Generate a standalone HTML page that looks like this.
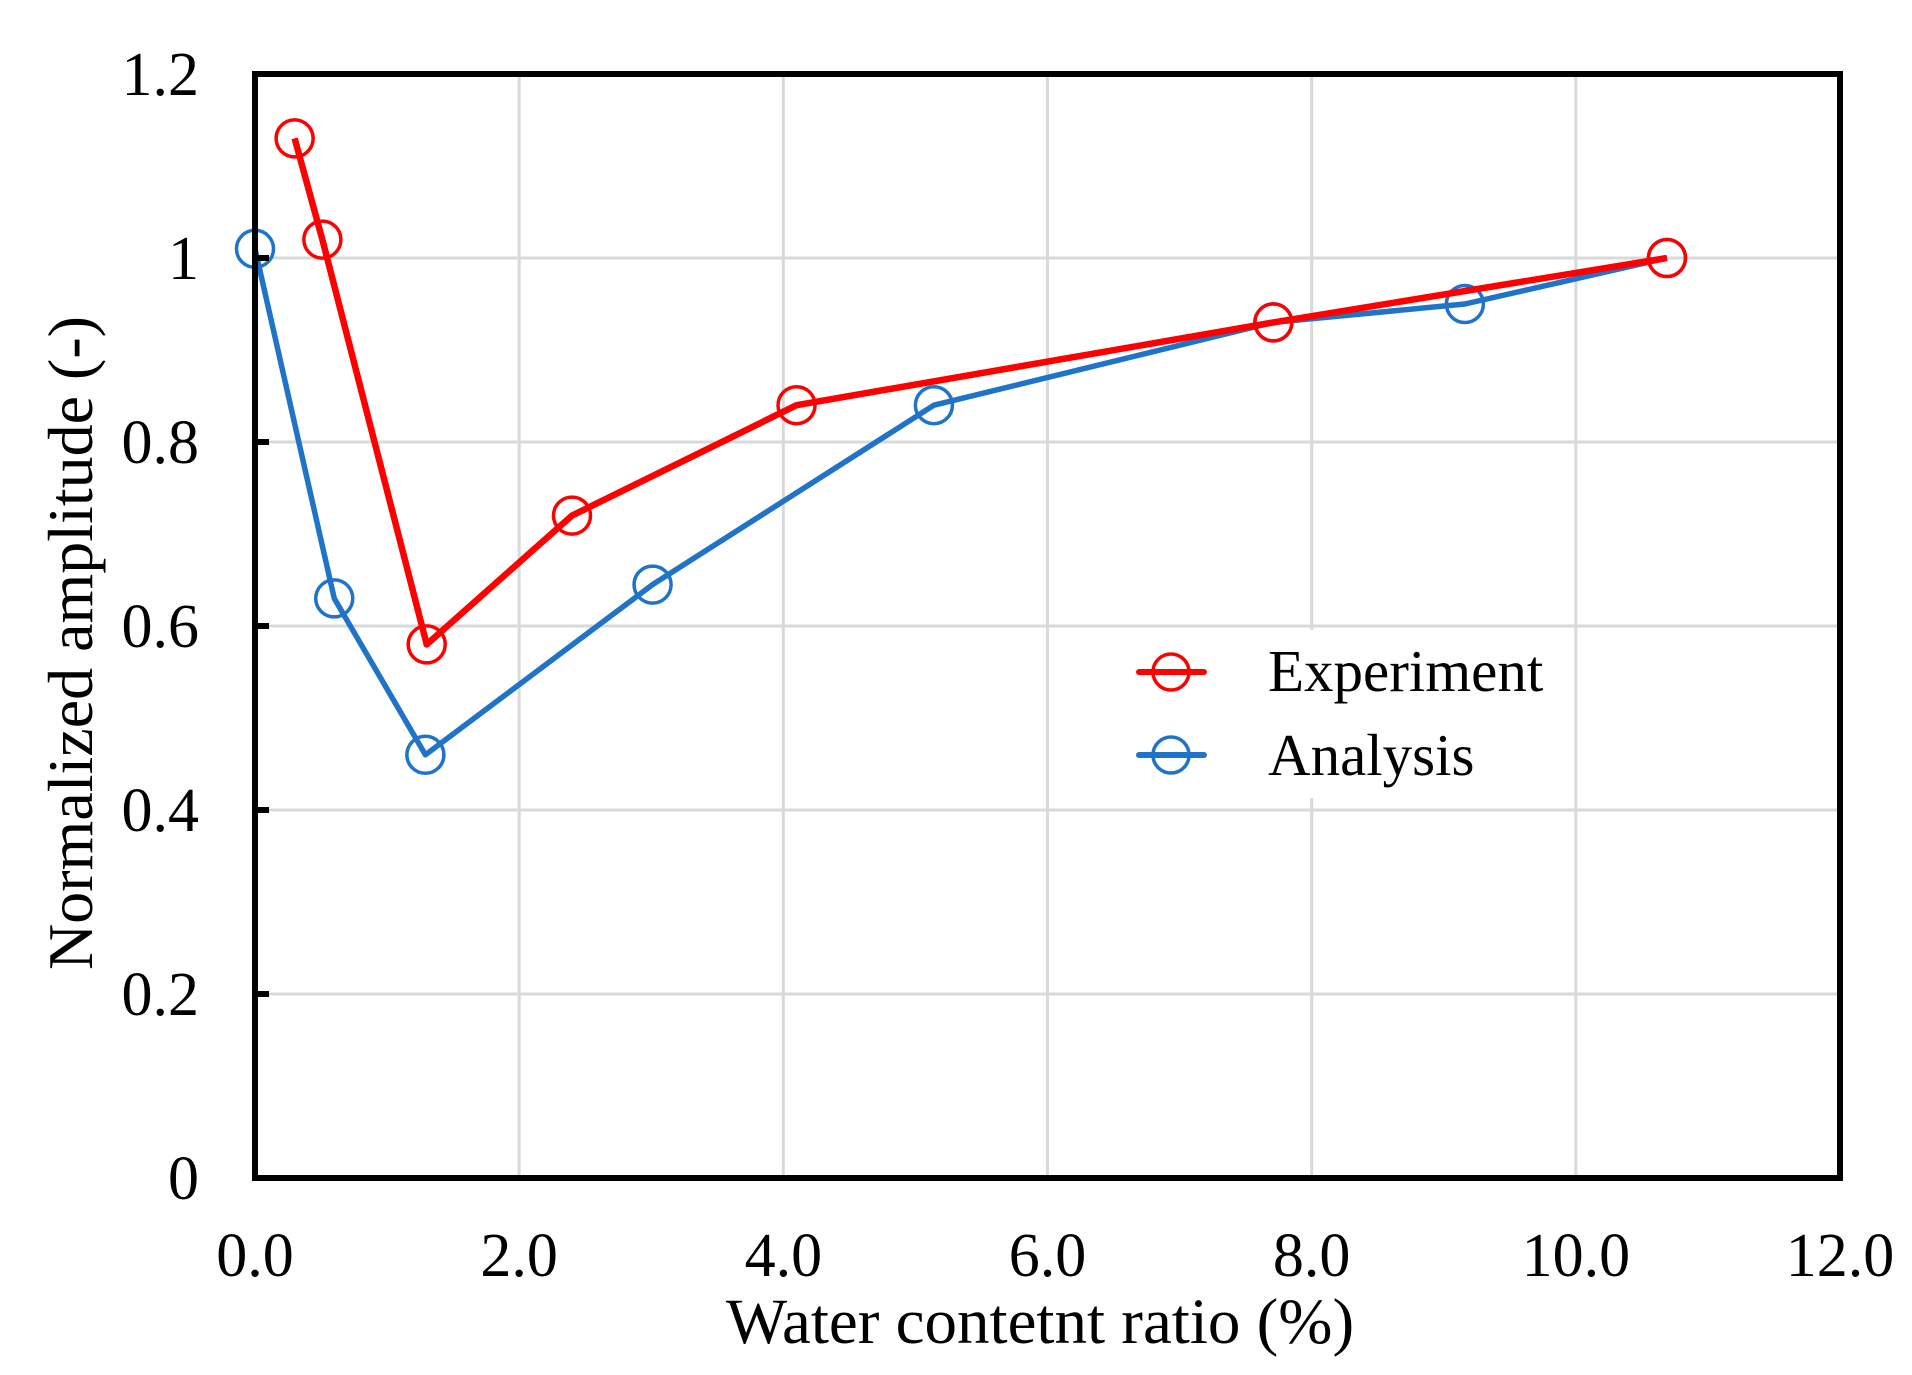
<!DOCTYPE html>
<html><head><meta charset="utf-8"><style>
html,body{margin:0;padding:0;background:#fff;}
svg{display:block;font-family:"Liberation Serif",serif;}
</style></head><body>
<svg id="chart" width="1912" height="1375" viewBox="0 0 1912 1375">
<g id="grid"></g>
<rect x="1121" y="630" width="450" height="168" fill="#fff"/>
<g id="series"></g>
<rect x="255" y="74" width="1585" height="1104" fill="none" stroke="#000" stroke-width="6"/>
<g id="ticks"></g>
<text x="1040" y="1343" font-size="65" text-anchor="middle">Water contetnt ratio (%)</text>
<text transform="translate(92,643) rotate(-90)" font-size="64" text-anchor="middle">Normalized amplitude (-)</text>
<g>
<g>
<line x1="1139" y1="672" x2="1204" y2="672" stroke="#ff0000" stroke-width="6" stroke-linecap="round"/>
<circle cx="1171" cy="672" r="18" fill="none" stroke="#ff0000" stroke-width="3.5"/>
<text x="1268" y="691" font-size="59">Experiment</text></g>
<g>
<line x1="1139" y1="755" x2="1204" y2="755" stroke="#1f73c8" stroke-width="6" stroke-linecap="round"/>
<circle cx="1171" cy="755" r="18" fill="none" stroke="#1f73c8" stroke-width="3.5"/>
<text x="1268" y="775" font-size="59">Analysis</text></g>
</g>
</svg>
<script>
const xTicks=[0,2,4,6,8,10,12];
const xTickLabels=["0.0","2.0","4.0","6.0","8.0","10.0","12.0"];
const yTicks=[0,0.2,0.4,0.6,0.8,1,1.2];
const yTickLabels=["0","0.2","0.4","0.6","0.8","1","1.2"];
const expX=[0.30,0.51,1.30,2.40,4.10,7.71,10.69];
const expY=[1.13,1.02,0.58,0.72,0.84,0.93,1.00];
const anaX=[0.0,0.60,1.29,3.01,5.14,7.71,9.16,10.69];
const anaY=[1.01,0.63,0.46,0.645,0.84,0.93,0.95,1.00];
const L=255,R=1840,T=74,B=1178;
const sx=v=>L+(v/12)*(R-L);
const sy=v=>B-(v/1.2)*(B-T);
const NS="http://www.w3.org/2000/svg";
function mk(tag,attrs,parent){const e=document.createElementNS(NS,tag);for(const k in attrs)e.setAttribute(k,attrs[k]);parent.appendChild(e);return e;}
const grid=document.getElementById('grid'),ticks=document.getElementById('ticks'),series=document.getElementById('series');
xTicks.forEach((v,i)=>{
 if(v>0&&v<12){const g=mk('line',{x1:sx(v),x2:sx(v),y1:T,y2:B,stroke:'#d9d9d9','stroke-width':3},grid);
 
 }
 const t=mk('text',{x:sx(v),y:1276,'font-size':62,'text-anchor':'middle'},ticks);t.textContent=xTickLabels[i];
 
 
});
yTicks.forEach((v,i)=>{
 if(v>0&&v<1.2){const g=mk('line',{x1:L,x2:R,y1:sy(v),y2:sy(v),stroke:'#d9d9d9','stroke-width':3},grid);
 
 
 const tk=mk('line',{x1:L,x2:L+14,y1:sy(v),y2:sy(v),stroke:'#000','stroke-width':6},ticks);
 
 }
 const t=mk('text',{x:199,y:sy(v)+21,'font-size':62,'text-anchor':'end'},ticks);t.textContent=yTickLabels[i];
 
 
});
function draw(xs,ys,color,w,name){
 const g=mk('g',{},series);
 
 
 const pl=mk('polyline',{points:xs.map((x,i)=>sx(x)+','+sy(ys[i])).join(' '),fill:'none',stroke:color,'stroke-width':w,'stroke-linejoin':'round'},g);
 
 
 xs.forEach((x,i)=>{const c=mk('circle',{cx:sx(x),cy:sy(ys[i]),r:18.5,fill:'none',stroke:color,'stroke-width':3.5},g);
 
 });
}
draw(anaX,anaY,'#1f73c8',5.5,'analysis');
draw(expX,expY,'#ff0000',6.5,'experiment');
</script>
</body></html>
